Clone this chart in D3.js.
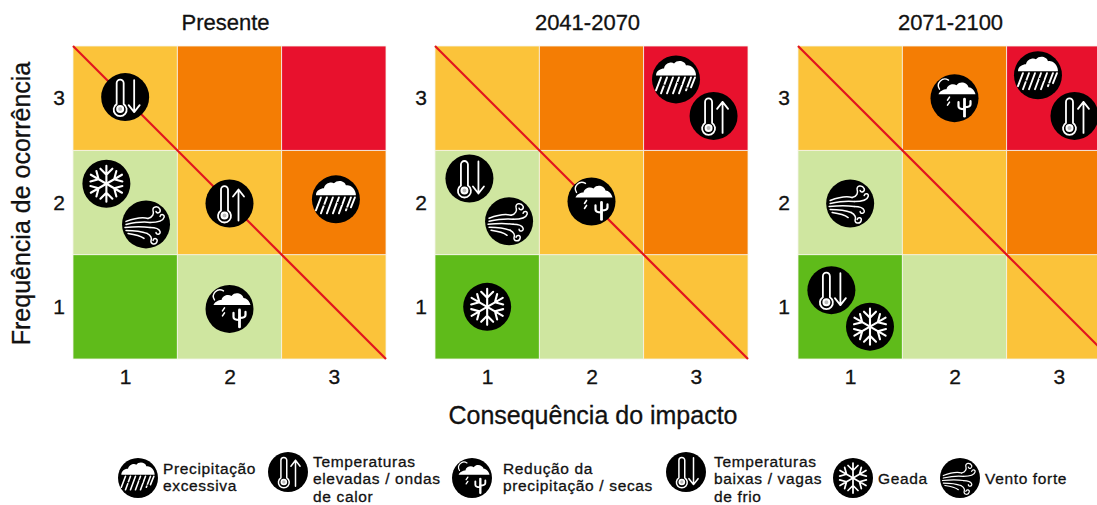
<!DOCTYPE html>
<html>
<head>
<meta charset="utf-8">
<script src="https://cdn.jsdelivr.net/npm/d3@7"></script>
<style>
  html, body { margin: 0; padding: 0; background: #fff; overflow: hidden; }
  text { font-family: "Liberation Sans", Arial, sans-serif; fill: #111; stroke: #111; stroke-width: 0.3px; }
</style>
</head>
<body>
<svg id="chart" width="1097" height="505"></svg>
<script>
var periods = ["Presente", "2041-2070", "2071-2100"];
var levels = [1, 2, 3];

// risk colour by consequence (column) and frequency (row, bottom to top)
var riskRows = [
  ["green", "light", "yellow"],
  ["light", "yellow", "orange"],
  ["yellow", "orange", "red"]
];
var riskColors = { green: "#5fbb1a", light: "#cfe6a0", yellow: "#fbc33a", orange: "#f47d04", red: "#e8112d" };

// hazard, consequence, frequency (decimals are how far the icon sits from the cell centre)
var presentIcons = [
  ["down", 1.0, 3.01], ["snow", 0.82, 2.18], ["wind", 1.2, 1.79],
  ["up", 2.0, 1.99], ["rain", 3.02, 2.03], ["dry", 2.0, 0.98]
];
var midIcons = [
  ["rain", 2.81, 3.18], ["up", 3.17, 2.83], ["down", 0.83, 2.23],
  ["wind", 1.21, 1.82], ["dry", 2.0, 2.01], ["snow", 1.0, 1.0]
];
var lateIcons = [
  ["dry", 2.0, 3.0], ["rain", 2.8, 3.22], ["up", 3.15, 2.83],
  ["wind", 1.0, 1.99], ["down", 0.82, 1.16], ["snow", 1.19, 0.81]
];
var panelIcons = [presentIcons, midIcons, lateIcons];

var legendKeys = ["rain", "up", "dry", "down", "snow", "wind"];
var legendLabels = [
  ["Precipitação", "excessiva"],
  ["Temperaturas", "elevadas / ondas", "de calor"],
  ["Redução da", "precipitação / secas"],
  ["Temperaturas", "baixas / vagas", "de frio"],
  ["Geada"],
  ["Vento forte"]
];

var translate = function(x, y) {
  return "translate(" + x + "," + y + ")";
};

var svg = d3.select("#chart");
var panelLefts = [73, 435, 798];
var plotSize = 313;
var plotTop = 46;

/*Scales*/
var xScale = d3.scaleLinear().domain([0.5, 3.5]).range([0, plotSize]);
var yScale = d3.scaleLinear().domain([0.5, 3.5]).range([plotSize, 0]);

/*Icon glyphs, drawn around 0,0 for a circle of radius 24*/
var line = function(g, d, width) {
  g.append("path").attr("d", d).attr("fill", "none").attr("stroke", "#fff")
    .attr("stroke-width", width || 1.6).attr("stroke-linecap", "round").attr("stroke-linejoin", "round");
};

var drawThermo = function(g) {
  line(g, "M-8.5,7 V-14 A3.5,3.5 0 0 1 -1.5,-14 V7 A6.5,6.5 0 1 1 -8.5,7 Z", 1.8);
  g.append("circle").attr("cx", -5).attr("cy", 12).attr("r", 3).attr("fill", "#bbb").attr("stroke", "#fff").attr("stroke-width", 2);
};

var glyphs = {
  up: function(g) {
    drawThermo(g);
    line(g, "M9,17 V-14 M3.5,-7 L9,-14 L14.5,-7", 1.8);
  },
  down: function(g) {
    drawThermo(g);
    line(g, "M9,-17 V15 M3.5,8 L9,15 L14.5,8", 1.8);
  },
  snow: function(g) {
    [0, 60, 120].forEach(function(a) {
      var arm = g.append("g").attr("transform", "rotate(" + a + ")");
      line(arm, "M0,-18 V18 M-6,-15 L0,-9 L6,-15 M-6,15 L0,9 L6,15", 2.1);
    });
  },
  wind: function(g) {
    // fan of streaks on the left
    line(g, "M-20,-3 C-12,-6 -5,-8 2,-6", 1.5);
    line(g, "M-20,0 C-11,-2 -3,-3 4,-2", 1.5);
    line(g, "M-21,3 C-11,2 -3,2 4,3", 1.5);
    line(g, "M-20,6 C-11,6 -4,7 1,9", 1.5);
    line(g, "M-18,9 C-11,10 -6,11 -2,14", 1.5);
    // curls on the right
    line(g, "M2,-6 C7,-7 8,-11 7,-14 C6,-18 12,-19 14,-15 C15,-12 11,-10 10,-13", 1.5);
    line(g, "M4,-2 C10,-2 17,-3 18,-7 C19,-10 15,-11 14,-8", 1.5);
    line(g, "M4,3 C10,3 13,4 14,7 C15,10 10,11 10,8", 1.5);
    line(g, "M1,9 C5,11 6,14 5,16 C4,20 10,21 11,17 C12,14 8,13 7,16", 1.5);
  },
  rain: function(g) {
    g.append("path").attr("fill", "#fff")
      .attr("d", "M-20,-4 C-20,-9 -15,-11 -12,-11 C-11,-16 -5,-18 -2,-16 C1,-20 9,-19 10,-14 C15,-15 20,-10 20,-4 Z");
    line(g, "M-15,-2 L-20,11 M-9,-2 L-15,14 M-3,-2 L-9,14 M3,-2 L-3,14 M9,-2 L3,14 M15,-2 L10,11 M19,-2 L15,8", 1.9);
    // gaps that break the rain streaks
    g.append("path").attr("d", "M-14,5 L-8,7 M1,3 L6,5 M8,8 L13,9").attr("stroke", "#000").attr("stroke-width", 1);
  },
  dry: function(g) {
    line(g, "M-15,-9 A6.5,6.5 0 0 1 -6,-18", 1.4);
    g.append("path").attr("fill", "#fff")
      .attr("d", "M-16,-4 C-15,-7 -11,-9 -8,-9 C-7,-14 -1,-15 2,-13 C6,-18 13,-15 14,-11 C17,-11 20,-8 21,-4 Z");
    line(g, "M-5,-1 L-7,2 M-5,4 L-7,7", 1.6);
    line(g, "M10,1 V18", 2.8);
    line(g, "M4,4 V8 Q4,11 10,11 M16,3 V6 Q16,9 10,9", 2.2);
  }
};

var drawIcon = function(parent, key, cx, cy, r) {
  var g = parent.append("g").attr("transform", translate(cx, cy) + " scale(" + r / 24 + ")");
  g.append("circle").attr("r", 24).attr("fill", "#000");
  glyphs[key](g);
};

/*Panels*/
periods.forEach(function(title, i) {
  var plot = svg.append("g").attr("transform", translate(panelLefts[i], plotTop));

  levels.forEach(function(row, r) {
    plot.selectAll(null)
      .data(riskRows[r])
      .enter()
      .append("rect")
      .attr("x", function(d, c) { return xScale(c + 0.5); })
      .attr("y", yScale(row + 0.5))
      .attr("width", xScale(1.5) - xScale(0.5))
      .attr("height", yScale(0.5) - yScale(1.5))
      .attr("fill", function(d) { return riskColors[d]; })
      .attr("stroke", "#f4f4ea")
      .attr("stroke-width", 0.8);
  });

  plot.append("line")
    .attr("x1", xScale(0.5)).attr("y1", yScale(3.5))
    .attr("x2", xScale(3.5)).attr("y2", yScale(0.5))
    .attr("stroke", "#e2141e")
    .attr("stroke-width", 2.2);

  panelIcons[i].forEach(function(d) {
    drawIcon(plot, d[0], xScale(d[1]), yScale(d[2]), 24);
  });

  var xAxis = d3.axisBottom(xScale).tickValues(levels).tickSize(0).tickPadding(10).tickFormat(d3.format("d"));
  var yAxis = d3.axisLeft(yScale).tickValues(levels).tickSize(0).tickPadding(8).tickFormat(d3.format("d"));

  var xg = plot.append("g").attr("transform", translate(0, plotSize)).call(xAxis);
  var yg = plot.append("g").call(yAxis);
  [xg, yg].forEach(function(a) {
    a.select(".domain").remove();
    a.selectAll("text").attr("font-size", 21).style("font-family", "'Liberation Sans', Arial, sans-serif");
  });

  plot.append("text")
    .attr("x", xScale(2) - 4)
    .attr("y", -16)
    .attr("text-anchor", "middle")
    .attr("font-size", 22)
    .text(title);
});

/*Axis titles*/
svg.append("text")
  .attr("x", 593).attr("y", 424)
  .attr("text-anchor", "middle")
  .attr("font-size", 25)
  .text("Consequência do impacto");

svg.append("text")
  .attr("transform", translate(30, 203.5) + " rotate(-90)")
  .attr("text-anchor", "middle")
  .attr("font-size", 25)
  .text("Frequência de ocorrência");

/*Legend*/
var legendIconX = [138, 288, 472, 686, 853, 960];
var legendIconY = [478, 472, 478, 472, 478, 478];
var legendTextX = [163, 313, 503, 714, 878, 985];
var legendTextY = [474, 466.8, 474, 466.8, 484, 484];

legendKeys.forEach(function(key, i) {
  drawIcon(svg, key, legendIconX[i], legendIconY[i], 20);
  svg.append("g").selectAll("text")
    .data(legendLabels[i])
    .enter()
    .append("text")
    .attr("x", legendTextX[i])
    .attr("y", function(d, j) { return legendTextY[i] + j * 17.4; })
    .attr("font-size", 15.5)
    .attr("letter-spacing", 0.65)
    .text(function(d) { return d; });
});
</script>
</body>
</html>
